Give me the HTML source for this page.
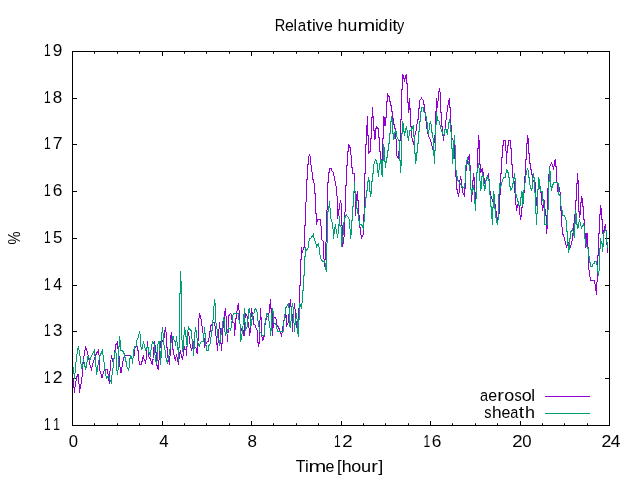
<!DOCTYPE html>
<html><head><meta charset="utf-8"><title>Relative humidity</title>
<style>
html,body{margin:0;padding:0;background:#fff;}
body{width:640px;height:480px;overflow:hidden;}
svg{display:block;will-change:transform;}
text{font-family:"Liberation Sans",sans-serif;font-size:16px;fill:#000;}
</style></head><body>
<svg width="640" height="480" viewBox="0 0 640 480">
<rect width="640" height="480" fill="#fff"/>
<path d="M72.5 425.5 v-4.50 M72.5 51.5 v4.50 M94.5 425.5 v-2.25 M94.5 51.5 v2.25 M117.5 425.5 v-2.25 M117.5 51.5 v2.25 M139.5 425.5 v-2.25 M139.5 51.5 v2.25 M162.5 425.5 v-4.50 M162.5 51.5 v4.50 M184.5 425.5 v-2.25 M184.5 51.5 v2.25 M206.5 425.5 v-2.25 M206.5 51.5 v2.25 M229.5 425.5 v-2.25 M229.5 51.5 v2.25 M251.5 425.5 v-4.50 M251.5 51.5 v4.50 M273.5 425.5 v-2.25 M273.5 51.5 v2.25 M296.5 425.5 v-2.25 M296.5 51.5 v2.25 M318.5 425.5 v-2.25 M318.5 51.5 v2.25 M341.5 425.5 v-4.50 M341.5 51.5 v4.50 M363.5 425.5 v-2.25 M363.5 51.5 v2.25 M385.5 425.5 v-2.25 M385.5 51.5 v2.25 M408.5 425.5 v-2.25 M408.5 51.5 v2.25 M430.5 425.5 v-4.50 M430.5 51.5 v4.50 M452.5 425.5 v-2.25 M452.5 51.5 v2.25 M475.5 425.5 v-2.25 M475.5 51.5 v2.25 M497.5 425.5 v-2.25 M497.5 51.5 v2.25 M520.5 425.5 v-4.50 M520.5 51.5 v4.50 M542.5 425.5 v-2.25 M542.5 51.5 v2.25 M564.5 425.5 v-2.25 M564.5 51.5 v2.25 M587.5 425.5 v-2.25 M587.5 51.5 v2.25 M609.5 425.5 v-4.50 M609.5 51.5 v4.50 M72.5 425.5 h4.5 M609.5 425.5 h-4.5 M72.5 378.5 h4.5 M609.5 378.5 h-4.5 M72.5 331.5 h4.5 M609.5 331.5 h-4.5 M72.5 285.5 h4.5 M609.5 285.5 h-4.5 M72.5 238.5 h4.5 M609.5 238.5 h-4.5 M72.5 191.5 h4.5 M609.5 191.5 h-4.5 M72.5 144.5 h4.5 M609.5 144.5 h-4.5 M72.5 98.5 h4.5 M609.5 98.5 h-4.5 M72.5 51.5 h4.5 M609.5 51.5 h-4.5" stroke="#000" stroke-width="1" fill="none"/>
<g>
<polyline points="72.5,375.0 73.4,382.0 74.5,392.5 75.2,385.0 76.4,379.0 77.5,374.5 78.5,374.5 78.8,380.0 79.4,392.5 80.1,388.0 81.6,381.0 82.5,372.0 82.8,366.0 84.0,356.0 85.6,346.5 87.5,352.0 88.5,357.0 90.0,365.0 91.5,369.5 93.0,363.0 94.5,359.0 96.2,354.0 98.2,350.5 99.5,357.0 100.0,371.0 102.2,378.2 103.5,372.0 105.2,369.6 107.5,369.6 109.3,383.5 110.3,366.0 111.5,355.0 112.5,362.0 113.0,358.5 114.5,358.0 114.5,351.0 115.5,350.5 115.5,345.0 116.5,344.5 117.5,341.2 117.5,346.5 118.5,352.0 119.5,359.0 119.8,366.0 121.0,373.0 122.2,366.0 123.5,358.5 124.8,355.4 130.0,355.4 131.0,357.5 132.4,359.8 134.1,356.0 134.4,351.0 135.4,346.3 137.2,346.3 137.6,350.4 138.5,351.0 138.8,359.8 139.8,364.0 141.3,364.0 142.5,359.8 143.2,355.4 143.8,359.0 144.8,359.8 145.4,364.0 146.3,358.5 146.6,349.8 147.2,345.4 147.6,341.3 147.9,346.0 148.5,352.2 148.5,356.0 149.8,357.9 151.0,361.0 152.2,364.0 152.9,359.8 153.5,358.5 153.8,347.9 154.4,345.4 154.7,341.3 155.0,345.2 155.4,352.0 156.5,352.8 156.9,365.2 158.4,369.8 159.1,359.2 159.9,349.5 160.6,341.5 162.5,341.5 164.4,337.0 164.8,331.8 165.5,327.2 166.2,334.0 166.6,347.5 167.8,348.2 167.8,357.0 169.6,364.5 170.4,348.0 170.4,340.0 171.5,331.8 171.9,337.8 172.6,342.0 173.0,349.5 174.1,355.5 175.2,360.0 176.6,355.5 177.9,361.5 178.6,364.5 179.4,354.8 180.5,350.2 181.2,354.8 182.4,360.0 183.1,355.5 183.5,350.2 184.6,346.5 185.0,349.5 186.5,350.2 186.5,355.5 187.2,342.2 188.4,331.8 189.1,336.2 189.5,343.0 190.6,346.0 191.4,350.5 192.5,346.8 193.2,341.5 194.4,344.5 195.1,347.5 196.2,348.2 197.3,354.2 197.8,345.2 198.2,337.0 198.4,324.2 198.4,323.5 199.5,313.4 200.3,316.0 201.4,320.5 201.8,325.8 202.9,326.5 202.9,332.5 203.6,334.0 204.4,341.5 204.8,346.0 206.6,342.2 208.1,341.5 208.5,338.5 209.2,337.8 209.6,331.8 210.4,331.0 210.8,325.8 211.9,325.0 212.2,322.8 214.1,322.4 214.9,325.8 215.6,327.2 215.6,335.5 216.4,337.0 216.8,344.5 217.5,345.2 217.5,350.5 218.2,340.0 218.6,329.5 219.4,328.8 219.6,322.4 220.1,329.5 220.5,340.8 221.2,344.5 221.6,350.5 222.0,343.8 222.8,343.0 223.1,322.4 223.9,322.0 224.6,313.8 225.4,308.1 226.1,316.8 226.5,328.0 226.9,329.5 227.2,341.5 228.0,334.0 228.4,323.5 228.8,316.0 229.1,315.2 230.6,313.4 231.4,314.5 231.8,316.8 232.1,322.0 233.2,322.0 234.0,322.8 234.4,336.2 235.1,329.5 235.5,319.0 236.2,318.2 236.6,311.5 237.8,310.0 237.8,306.2 238.5,303.2 238.9,309.6 239.6,310.4 240.0,324.2 240.8,331.0 241.9,328.8 243.0,330.2 243.4,333.2 244.1,336.2 244.4,325.0 245.5,313.4 246.6,314.5 247.4,316.8 247.4,321.2 248.5,323.5 249.2,330.2 249.4,336.2 250.4,331.0 250.8,323.5 251.1,313.8 251.5,308.1 251.9,312.2 252.6,313.0 253.4,319.8 253.8,324.2 254.9,325.0 256.0,328.0 257.1,330.2 257.5,341.5 258.2,343.0 258.6,345.2 259.4,343.0 259.8,320.5 260.5,319.0 260.5,308.1 260.9,316.8 261.6,317.5 262.0,337.0 262.8,340.8 263.5,337.0 264.2,336.2 264.6,328.0 265.8,319.8 266.5,319.0 267.2,316.4 268.4,316.0 269.1,313.0 269.5,304.4 270.2,304.0 270.2,299.1 270.6,307.8 271.4,309.2 271.8,314.5 272.5,313.8 272.5,335.5 272.9,328.8 273.6,324.2 274.0,317.5 275.9,317.5 276.2,320.5 276.6,325.0 277.8,325.8 278.5,328.0 279.6,328.8 280.4,332.5 281.5,335.5 282.2,331.8 282.6,326.5 283.4,325.8 283.8,320.5 284.9,319.8 285.2,314.5 286.0,315.2 286.4,326.5 287.5,323.5 288.2,322.8 288.6,317.5 289.4,310.0 289.8,305.5 290.5,299.1 291.0,307.0 291.8,309.0 292.5,324.0 292.5,331.5 293.2,320.0 294.4,303.4 294.8,309.0 295.5,309.8 295.5,317.2 296.2,322.5 296.5,327.5 298.1,320.2 298.5,309.0 299.2,308.2 299.5,298.0 299.5,286.0 300.5,285.0 300.5,260.0 301.5,259.0 301.5,247.0 302.5,253.0 303.5,247.0 304.5,247.0 304.5,226.0 305.5,225.0 305.5,206.0 306.5,198.0 306.5,180.0 307.5,179.0 307.5,165.0 308.5,164.0 308.5,158.0 309.5,154.0 310.5,158.0 310.5,164.5 311.5,165.5 311.5,171.5 312.5,172.5 312.5,179.0 313.5,180.0 314.0,182.5 314.5,193.0 315.5,194.0 315.5,213.0 316.5,214.0 316.5,224.5 317.5,220.0 319.0,219.0 320.5,219.5 320.5,225.5 321.5,226.5 322.0,240.0 323.0,241.0 323.5,252.0 324.5,266.5 325.5,254.0 325.5,242.5 326.5,241.5 326.5,210.5 327.5,209.5 327.5,183.0 328.5,182.0 328.5,173.0 329.5,172.0 329.5,168.5 331.5,168.5 332.0,171.0 333.0,172.0 333.0,175.0 334.0,176.0 334.0,180.0 335.0,181.0 335.0,185.0 336.0,186.0 336.0,195.0 337.0,196.0 337.0,210.0 337.5,219.0 338.0,216.0 338.5,210.0 339.5,209.0 339.5,206.0 340.5,200.0 341.5,206.0 341.5,225.0 342.5,226.0 342.5,247.0 343.5,241.0 344.0,237.0 344.0,229.0 344.5,225.0 344.5,213.0 345.0,212.0 345.5,206.0 345.5,186.0 346.5,185.0 346.5,166.0 347.5,165.0 347.5,152.0 348.5,151.0 348.5,144.0 349.5,147.0 350.5,148.0 350.5,154.5 351.5,155.5 351.5,167.0 352.5,168.0 352.5,173.0 354.5,173.5 354.5,192.0 355.5,193.0 355.5,215.5 356.5,197.0 357.5,191.0 357.5,200.0 358.5,200.5 358.5,214.0 359.5,216.0 359.5,227.8 360.5,228.0 360.5,234.5 361.2,235.0 361.5,238.8 362.2,236.0 362.5,235.2 363.5,234.8 363.5,214.5 364.5,213.5 364.5,174.0 365.5,173.0 365.5,145.0 366.5,144.0 366.5,126.0 367.5,125.0 367.5,116.0 367.5,135.0 368.5,136.0 368.5,154.0 369.5,152.0 370.5,151.0 370.5,139.0 371.5,138.0 371.5,118.0 372.5,117.0 372.5,107.0 373.0,116.0 373.5,118.0 373.5,130.0 374.5,131.0 374.5,140.0 375.5,137.0 375.5,130.0 376.5,127.0 377.5,128.0 378.5,129.0 378.5,137.0 379.5,138.0 379.5,151.0 380.5,152.0 380.5,159.0 382.5,159.5 382.5,139.0 383.5,138.0 383.5,116.5 384.5,118.0 385.0,125.5 385.5,125.0 385.5,118.0 386.5,117.0 386.5,102.0 387.5,101.0 387.5,93.5 388.5,96.0 389.5,97.0 389.5,101.0 390.5,102.0 390.5,105.0 391.5,106.0 391.5,111.0 392.5,112.0 392.5,118.0 393.5,119.0 393.5,124.0 394.5,125.0 394.5,128.0 395.5,129.0 395.5,138.0 396.5,140.0 396.5,155.5 397.5,156.5 398.5,159.0 398.5,153.0 399.5,149.0 399.5,141.0 400.5,140.0 400.5,120.0 401.5,119.0 401.5,90.0 402.5,89.0 402.5,74.0 403.5,77.0 404.5,80.0 405.5,77.0 406.5,74.0 406.5,83.0 407.5,84.0 407.5,102.0 408.5,103.0 408.5,112.5 409.5,108.0 409.5,98.0 409.5,108.0 410.5,109.0 410.5,126.0 411.5,127.0 411.5,136.0 412.5,140.0 413.5,144.5 414.5,137.0 415.5,133.0 416.5,129.0 417.5,120.0 418.5,119.0 418.5,109.0 419.5,108.0 419.5,101.0 421.5,98.0 423.5,101.0 423.5,104.0 424.5,105.0 424.5,112.0 425.5,113.0 425.5,120.0 426.5,121.0 426.5,128.0 427.5,129.0 427.5,132.0 428.5,136.0 430.0,139.0 431.0,142.0 432.0,146.0 432.5,149.0 433.5,148.0 433.5,143.0 434.5,142.0 434.5,136.0 435.5,135.0 435.5,112.0 436.5,111.0 436.5,98.0 437.5,108.0 438.5,94.0 439.5,88.0 440.5,95.0 440.5,112.0 441.5,113.0 441.5,126.0 442.5,127.0 442.5,135.0 443.5,136.0 443.5,140.5 444.0,136.0 444.5,134.0 445.5,124.0 446.5,116.0 447.5,109.0 448.5,102.0 449.5,98.0 449.5,107.0 450.5,108.0 450.5,125.0 451.5,126.0 451.5,138.0 452.5,139.0 453.5,141.0 454.5,145.0 454.5,154.5 455.5,164.0 455.5,176.0 456.5,177.0 456.5,189.0 457.5,190.0 457.5,193.0 458.5,194.0 458.5,196.5 459.5,190.0 459.5,183.0 460.5,178.0 461.5,181.0 461.5,187.0 462.5,188.0 462.5,192.0 463.5,194.0 464.5,196.5 464.5,189.0 465.5,188.0 465.5,172.0 466.5,169.0 466.5,164.0 467.5,163.0 468.5,158.0 469.5,154.0 469.5,164.0 470.5,166.0 470.5,189.0 471.5,190.0 471.5,201.5 472.5,189.0 472.5,181.0 473.5,180.0 473.5,173.0 474.5,180.0 474.5,192.0 475.5,193.0 475.5,202.0 476.5,189.0 476.5,173.0 477.5,172.0 477.5,149.0 478.5,148.0 478.5,135.0 479.5,145.0 479.5,164.0 480.5,165.0 480.5,173.0 481.5,171.0 482.5,168.0 482.5,172.0 483.5,173.0 483.5,178.0 484.5,179.0 484.5,183.0 485.5,182.0 486.5,179.0 487.5,178.0 488.5,173.0 488.5,179.0 489.5,180.0 489.5,187.0 490.5,195.0 491.5,197.0 492.5,200.5 493.5,198.0 494.5,200.0 495.5,208.0 496.5,214.0 497.5,220.0 498.5,219.0 499.5,210.0 499.5,195.0 500.5,194.0 500.5,174.0 501.5,173.0 501.5,158.0 502.5,157.0 502.5,146.0 503.5,145.0 503.5,140.0 505.5,140.0 506.0,151.0 506.5,153.0 506.5,164.0 506.5,153.0 507.5,152.0 507.5,146.0 508.5,145.0 508.5,140.0 510.5,140.0 510.5,148.0 511.5,149.0 511.5,164.0 512.5,165.0 512.5,177.0 513.5,178.0 514.5,183.0 514.5,192.0 515.5,194.0 515.5,204.5 516.5,205.5 516.5,210.5 517.5,205.0 518.5,204.5 519.5,205.5 519.5,214.5 520.5,215.5 520.5,219.5 521.5,214.0 521.5,208.0 522.5,207.0 522.5,204.0 523.5,203.0 523.5,193.0 524.5,192.0 524.5,177.0 525.5,176.0 525.5,160.0 526.5,159.0 526.5,144.0 527.5,143.0 527.5,135.0 528.5,141.0 528.5,153.0 529.5,154.0 529.5,163.0 530.5,164.0 530.5,169.0 531.5,170.0 531.5,174.0 532.5,175.0 532.5,180.0 533.5,181.0 534.5,182.0 535.5,182.0 535.5,197.0 536.5,198.0 536.5,205.5 537.5,190.0 538.5,189.0 540.5,187.0 540.5,192.0 541.5,193.0 541.5,204.5 542.5,205.5 542.5,210.5 543.5,205.0 543.5,200.0 544.5,201.0 544.5,209.0 545.5,210.0 545.5,215.0 546.5,216.0 546.5,233.5 547.5,224.0 547.5,189.0 548.5,188.0 548.5,175.0 549.5,174.0 549.5,167.0 550.5,165.0 551.5,163.0 552.5,165.0 553.5,168.0 554.0,166.0 554.5,162.0 555.5,159.0 555.5,166.0 556.5,167.0 556.5,182.0 557.5,183.0 557.5,191.5 558.5,186.0 559.5,188.0 560.5,196.0 560.5,210.0 561.5,211.0 561.5,225.0 562.5,229.0 562.5,234.0 563.5,235.0 564.5,239.0 565.5,243.0 566.5,247.5 567.5,244.0 568.5,243.0 569.5,244.0 570.5,247.5 571.5,243.0 572.5,239.0 572.5,234.0 573.5,233.0 573.5,224.0 574.5,223.0 574.5,215.0 575.5,214.0 575.5,201.0 576.5,200.0 576.5,184.0 577.5,183.0 577.5,173.0 578.5,186.0 578.5,211.0 579.5,212.0 579.5,218.0 580.5,212.0 580.5,203.0 581.5,202.0 581.5,196.0 582.5,200.0 582.5,206.0 583.5,207.0 583.5,219.0 584.5,220.0 584.5,228.0 585.5,237.0 585.5,248.0 586.5,241.0 587.0,233.0 587.5,243.0 588.4,250.0 588.4,269.5 589.5,270.2 589.5,276.6 590.6,277.4 590.6,280.4 594.8,280.8 594.8,283.8 595.5,284.5 595.5,290.5 596.5,291.5 596.5,294.8 596.5,282.2 597.4,281.5 597.5,256.0 598.5,255.0 598.5,234.0 599.5,233.0 599.5,215.0 600.5,214.0 600.5,205.0 601.5,210.0 601.5,219.0 602.5,220.0 602.5,233.0 603.5,232.0 604.5,229.0 605.5,224.0 605.5,230.0 606.5,231.0 606.5,244.0 607.5,245.0 607.5,253.0" fill="none" stroke="#9400d3" stroke-width="1" stroke-linejoin="miter" shape-rendering="crispEdges"/>
<polyline points="72.5,364.0 73.5,369.0 74.5,378.5 75.5,368.0 76.3,358.0 77.3,352.0 78.4,346.3 80.0,356.0 81.7,369.3 83.5,359.5 85.7,369.6 88.0,355.8 89.9,360.6 91.5,355.7 94.4,350.4 95.5,361.0 96.6,374.5 98.2,364.0 100.0,355.7 102.4,350.5 104.0,362.0 105.5,374.0 106.8,378.3 108.5,376.0 111.5,383.5 112.2,372.0 113.5,366.0 113.5,358.5 114.5,358.0 114.5,353.5 115.5,350.0 116.5,356.0 116.5,364.5 117.3,375.0 118.5,366.0 118.5,346.5 119.5,346.0 119.5,336.2 120.5,343.5 120.5,350.0 122.5,350.5 123.5,352.5 124.5,354.5 124.5,357.5 125.5,358.0 125.5,361.5 126.5,362.0 126.5,366.0 128.5,369.5 129.5,366.0 129.5,359.0 130.5,358.5 130.5,355.5 132.0,358.5 132.5,364.4 133.5,351.5 134.8,346.3 136.0,346.3 136.6,340.4 137.6,339.8 139.5,331.5 140.5,337.0 140.7,345.4 141.6,350.4 142.6,346.6 143.5,341.3 144.2,345.5 145.7,350.4 146.6,347.9 147.9,346.6 148.8,352.0 150.4,355.4 151.5,346.0 152.9,341.3 154.3,345.0 155.4,359.8 156.9,363.8 157.6,347.0 158.4,341.5 159.9,342.0 160.2,364.5 161.4,355.0 161.4,337.0 162.5,327.2 163.3,336.0 163.7,344.5 164.8,347.0 165.5,356.0 167.4,363.8 168.9,355.5 170.0,349.0 170.8,344.0 171.7,340.0 173.0,336.2 174.1,340.0 175.3,342.5 175.6,346.0 176.4,336.2 176.8,341.5 177.9,343.0 178.2,360.8 179.6,338.0 179.6,294.0 180.5,293.0 180.5,271.0 181.6,292.0 181.6,334.0 182.8,352.0 184.2,333.0 184.6,327.2 185.4,333.0 186.1,337.0 187.2,346.7 187.6,332.0 188.8,327.2 189.5,329.5 191.0,330.3 191.4,336.2 192.5,341.5 193.3,344.0 193.6,355.5 194.4,342.0 194.8,334.0 195.5,327.2 196.3,332.0 197.0,337.8 197.8,342.2 198.9,345.2 199.5,346.0 200.6,342.2 203.2,341.1 203.6,334.0 204.4,333.2 204.4,327.2 205.1,334.0 205.5,344.5 206.2,345.2 206.2,350.5 208.5,350.5 208.5,348.2 209.2,344.5 210.0,343.8 210.4,337.8 211.1,337.0 211.5,331.0 212.2,330.2 212.6,320.5 213.4,319.8 213.4,306.2 214.5,306.0 214.5,299.1 215.6,307.0 215.6,322.8 216.4,323.5 216.8,327.2 217.5,334.0 218.2,339.2 219.0,340.0 219.4,344.5 219.8,346.0 220.1,340.0 220.5,335.5 221.2,334.0 221.6,330.2 222.0,328.0 222.8,327.2 222.8,321.2 223.9,320.5 223.9,317.1 224.2,322.8 225.0,331.8 225.8,336.2 226.1,333.2 227.2,332.5 227.6,330.2 228.8,328.0 229.9,328.4 230.6,331.0 231.0,328.0 231.4,321.5 232.4,320.5 232.4,316.0 233.6,313.6 238.9,313.4 238.9,319.8 239.6,320.5 240.0,323.5 240.4,333.2 240.8,341.5 241.5,337.8 241.5,334.8 242.2,334.0 242.2,327.2 243.0,325.8 243.4,316.0 243.4,314.5 244.5,313.8 244.5,308.0 244.8,319.0 245.5,330.2 247.0,327.2 247.4,319.8 248.1,319.0 248.5,313.0 249.2,308.1 250.0,313.0 250.4,326.5 251.5,325.0 251.9,319.8 252.6,318.2 253.0,313.8 254.1,313.0 254.5,311.5 255.2,308.1 256.4,310.0 257.1,311.9 257.9,312.6 257.9,320.5 258.6,322.0 259.4,331.0 260.1,331.8 260.9,333.2 262.0,334.8 263.9,336.0 264.2,332.5 265.0,323.5 265.8,319.8 266.5,313.8 266.9,313.4 268.0,315.2 268.4,319.0 269.5,322.0 270.2,330.2 270.4,336.2 271.4,327.2 271.8,315.2 272.5,308.1 273.6,314.5 274.0,322.8 275.1,323.5 275.9,325.0 277.0,328.8 277.4,331.8 283.0,331.8 283.4,325.8 284.1,320.5 284.5,314.5 285.6,313.8 285.6,308.1 287.1,306.2 288.2,303.2 288.8,308.0 289.5,309.0 290.0,327.0 290.5,327.5 291.0,321.8 291.4,309.0 292.5,303.4 293.2,309.0 293.6,322.5 294.4,324.0 294.5,331.5 295.1,324.0 295.5,318.8 296.2,318.0 296.2,313.5 297.0,318.8 297.4,330.0 298.5,336.8 298.9,319.5 299.6,318.8 299.6,303.4 301.5,308.6 301.5,303.4 302.5,302.6 302.5,291.0 303.5,290.0 303.5,276.0 304.5,275.0 304.5,257.0 305.5,256.0 305.5,247.5 306.5,250.0 307.5,249.0 308.0,248.0 308.5,243.0 309.5,238.5 311.0,238.0 312.5,236.0 313.5,233.5 314.0,238.0 315.0,241.0 316.0,244.0 316.5,247.0 317.5,244.5 318.5,243.5 319.0,247.0 319.5,250.0 320.0,255.0 321.0,259.0 322.5,261.0 324.0,261.5 325.0,263.0 325.5,268.0 326.5,271.5 326.5,254.0 327.0,243.0 327.5,242.0 327.5,213.0 328.5,210.0 329.0,206.0 329.2,201.0 329.5,206.0 330.5,210.5 331.0,219.0 332.0,222.0 332.0,227.5 333.0,228.5 333.5,238.5 334.0,234.0 334.5,229.0 335.5,224.5 336.0,229.0 337.0,234.0 337.5,238.0 338.0,234.0 338.5,225.0 339.5,224.0 339.5,216.5 340.0,225.5 341.0,226.5 341.5,247.0 342.5,240.0 343.0,236.0 343.5,225.0 344.5,219.0 345.5,216.0 346.5,215.0 347.5,216.5 349.0,219.0 349.5,224.0 350.5,233.0 350.5,238.8 351.5,232.0 351.5,221.0 352.5,220.0 352.5,207.0 353.5,206.0 353.5,191.5 354.5,191.0 354.5,182.0 354.5,191.0 355.5,192.0 355.5,197.0 356.5,204.0 356.5,208.0 357.5,209.0 357.5,213.5 358.5,214.5 358.5,220.5 359.5,221.0 359.5,224.5 361.0,224.5 362.0,225.5 362.5,227.0 363.2,227.5 363.5,229.8 363.5,222.0 364.5,221.0 364.5,208.0 365.5,207.0 365.5,198.0 366.5,197.0 366.5,191.0 367.5,190.0 367.5,182.0 368.5,181.0 368.5,177.0 369.5,182.0 369.5,191.0 370.5,192.0 370.5,196.5 371.5,191.0 371.5,182.0 372.5,181.0 372.5,174.0 373.5,173.0 373.5,167.0 374.5,162.0 376.0,159.5 376.5,163.0 377.5,164.0 378.0,173.0 378.5,177.0 379.5,164.0 380.5,163.0 380.5,160.0 381.5,160.5 381.5,173.0 382.5,177.0 382.5,161.0 383.5,160.0 383.5,144.0 384.5,150.0 384.5,161.0 385.5,162.0 385.5,168.0 386.5,158.0 387.5,157.0 387.5,151.0 388.5,150.0 388.5,144.0 389.5,143.0 389.5,134.0 390.5,133.0 390.5,122.0 391.5,121.0 391.5,116.0 392.5,122.0 392.5,133.0 393.5,134.0 393.5,140.0 394.5,137.0 394.5,133.0 395.5,132.0 395.5,130.0 396.5,133.0 396.5,136.0 398.0,139.0 399.5,142.0 399.5,160.0 400.5,161.0 400.5,173.0 401.5,159.0 401.5,134.0 402.5,133.0 402.5,121.0 403.5,125.0 403.5,131.0 404.5,132.0 404.5,136.0 405.5,130.0 406.5,126.0 407.0,130.0 407.5,135.0 408.5,140.5 409.5,131.0 411.5,130.0 412.5,127.0 413.5,126.0 413.5,136.0 414.5,137.0 414.5,153.0 415.5,154.0 415.5,163.5 416.5,159.0 416.5,153.0 417.5,152.0 417.5,144.0 418.5,143.0 418.5,132.0 419.5,131.0 419.5,122.0 420.5,121.0 420.5,112.0 421.5,111.0 421.5,107.5 423.5,107.5 424.0,112.0 425.0,113.0 425.5,116.0 426.5,117.0 427.0,122.0 427.5,131.0 428.5,132.0 428.5,135.0 429.5,126.0 430.5,121.0 431.5,126.0 431.5,131.0 432.5,134.0 433.0,138.0 433.5,142.0 433.5,155.0 434.5,156.0 434.5,163.5 434.5,151.0 435.5,150.0 435.5,125.0 436.5,124.0 436.5,112.0 437.5,120.0 439.0,121.0 439.5,124.0 440.5,126.0 441.5,131.0 442.5,132.0 443.5,136.0 444.5,134.0 444.5,130.0 445.5,129.0 446.5,130.0 447.5,135.0 448.5,124.0 449.5,121.0 450.5,125.0 450.5,131.0 451.5,132.0 451.5,148.0 452.5,149.0 452.5,163.5 453.5,155.0 453.5,141.0 454.5,140.0 454.5,135.0 455.0,144.0 455.5,164.0 456.5,176.0 457.5,177.0 457.5,180.0 458.5,181.0 459.5,183.0 460.5,184.0 461.5,186.0 462.5,187.0 464.5,187.5 465.5,179.0 465.5,166.0 466.5,165.0 466.5,162.0 467.5,159.0 468.5,163.0 469.5,166.0 470.5,175.0 470.5,189.0 471.5,190.0 471.5,195.0 472.5,190.0 473.5,187.0 474.5,192.0 474.5,203.0 475.5,204.0 475.5,210.5 476.5,189.0 476.5,173.0 477.5,172.0 478.5,164.0 478.5,163.0 479.5,172.0 479.5,177.0 480.5,184.0 480.5,191.0 481.5,186.0 481.5,177.0 482.5,176.0 482.5,173.0 483.5,178.0 483.5,185.0 484.5,186.0 484.5,191.0 485.5,186.0 485.5,181.0 486.5,180.0 486.5,177.5 487.5,177.0 488.5,180.0 489.5,181.0 489.5,192.0 490.5,198.0 490.5,206.0 491.5,207.0 491.5,218.0 492.5,219.0 492.5,224.5 492.5,208.0 493.5,207.0 493.5,191.0 494.5,197.0 494.5,208.0 495.5,209.0 495.5,217.0 496.5,218.0 496.5,221.0 497.5,224.5 498.0,220.0 498.5,214.0 498.5,195.0 499.5,193.0 499.5,183.0 500.5,187.0 501.0,186.0 501.5,184.0 502.5,180.0 503.5,177.5 505.5,177.0 506.0,173.0 506.5,169.0 507.5,172.0 508.5,173.0 508.5,177.0 509.5,178.0 509.5,186.0 510.5,187.0 510.5,191.0 511.5,189.0 512.5,187.0 512.5,184.0 513.5,183.0 513.5,178.0 514.5,177.0 514.5,173.0 514.5,178.0 515.5,179.0 515.5,194.0 516.5,195.0 517.5,201.0 518.5,202.0 518.5,205.5 520.5,205.5 520.5,198.0 521.5,197.0 521.5,191.0 522.5,194.0 522.5,205.5 523.5,200.0 523.5,193.0 524.5,188.0 525.5,178.0 526.5,172.0 527.5,168.0 528.5,172.0 528.5,177.0 529.5,178.0 529.5,182.0 530.5,187.0 531.5,191.0 532.5,186.0 532.5,178.0 533.5,177.0 533.5,173.0 534.5,180.0 534.5,192.0 535.5,193.0 535.5,213.5 536.5,214.5 536.5,224.5 536.5,214.0 537.5,213.0 537.5,190.0 538.5,189.0 538.5,177.5 539.5,181.0 539.5,187.0 540.5,188.0 540.5,191.0 542.5,192.0 542.5,200.0 543.5,201.0 544.5,206.0 544.5,224.5 547.5,224.5 547.5,210.0 548.5,209.0 548.5,182.0 549.5,181.0 549.5,167.0 550.5,174.0 550.5,186.0 551.5,187.0 551.5,191.0 552.5,186.0 553.5,183.0 554.0,182.0 557.5,182.0 558.5,185.0 558.5,194.0 559.5,195.0 560.5,196.0 560.5,202.0 561.5,210.0 562.5,211.0 562.5,215.0 564.5,215.5 565.5,218.0 566.5,222.0 566.5,231.0 567.5,232.0 567.5,243.0 568.5,244.0 568.5,253.0 569.5,247.0 569.5,239.0 570.5,238.0 570.5,232.0 571.5,231.0 572.5,229.0 573.5,233.0 574.5,238.0 574.5,224.0 575.5,223.0 575.5,210.0 576.5,215.0 576.5,224.0 577.5,225.0 577.5,229.0 578.5,226.0 579.5,219.0 580.5,224.0 581.5,228.0 582.5,226.0 583.5,224.0 584.5,228.0 584.5,238.0 585.5,239.0 585.5,243.0 587.5,248.0 588.5,249.0 588.5,256.0 589.5,257.0 589.5,262.4 590.6,263.0 590.6,266.5 592.5,266.5 592.9,264.2 594.0,263.5 594.0,261.2 596.6,261.2 596.6,265.0 597.8,265.4 598.1,276.0 598.9,271.8 599.6,265.8 599.6,249.0 600.5,248.0 600.5,238.0 601.5,243.0 602.5,244.0 602.5,252.0 603.5,243.0 603.5,233.0 604.5,232.0 605.5,229.5 606.5,232.0 606.5,242.0 607.5,243.0 607.5,248.0" fill="none" stroke="#009e73" stroke-width="1" stroke-linejoin="miter" shape-rendering="crispEdges"/>
</g>
<rect x="72.5" y="51.5" width="537" height="374" fill="none" stroke="#000" stroke-width="1"/>
<g>
<text transform="translate(280.20,30.75) scale(0.880,1) translate(-6.25,0)" style="font-size:16.5px">R</text>
<text transform="translate(289.35,30.75) scale(0.967,1) translate(-4.57,0)" style="font-size:16.5px">e</text>
<text transform="translate(295.30,30.75) scale(0.953,1) translate(-1.84,0)" style="font-size:16.5px">l</text>
<text transform="translate(302.38,30.75) scale(0.912,1) translate(-4.94,0)" style="font-size:16.5px">a</text>
<text transform="translate(309.40,30.75) scale(1.184,1) translate(-2.36,0)" style="font-size:16.5px">t</text>
<text transform="translate(313.85,30.75) scale(1.021,1) translate(-1.82,0)" style="font-size:16.5px">i</text>
<text transform="translate(319.68,30.75) scale(1.000,1) translate(-4.12,0)" style="font-size:16.5px">v</text>
<text transform="translate(328.35,30.75) scale(0.967,1) translate(-4.57,0)" style="font-size:16.5px">e</text>
<text transform="translate(342.50,30.75) scale(1.075,1) translate(-4.63,0)" style="font-size:16.5px">h</text>
<text transform="translate(352.50,30.75) scale(1.067,1) translate(-4.57,0)" style="font-size:16.5px">u</text>
<text transform="translate(366.50,30.75) scale(1.295,1) translate(-6.88,0)" style="font-size:16.5px">m</text>
<text transform="translate(376.75,30.75) scale(1.021,1) translate(-1.82,0)" style="font-size:16.5px">i</text>
<text transform="translate(382.95,30.75) scale(1.064,1) translate(-4.41,0)" style="font-size:16.5px">d</text>
<text transform="translate(390.50,30.75) scale(1.021,1) translate(-1.82,0)" style="font-size:16.5px">i</text>
<text transform="translate(395.00,30.75) scale(1.184,1) translate(-2.36,0)" style="font-size:16.5px">t</text>
<text transform="translate(400.75,30.75) scale(0.880,1) translate(-4.12,0)" style="font-size:16.5px">y</text>
<text transform="translate(300.50,471.75) scale(0.964,1) translate(-5.03,0)" style="font-size:16.5px">T</text>
<text transform="translate(306.75,471.75) scale(1.021,1) translate(-1.82,0)" style="font-size:16.5px">i</text>
<text transform="translate(317.50,471.75) scale(1.295,1) translate(-6.88,0)" style="font-size:16.5px">m</text>
<text transform="translate(330.00,471.75) scale(0.967,1) translate(-4.57,0)" style="font-size:16.5px">e</text>
<text transform="translate(339.80,471.75) scale(1.030,1) translate(-2.82,0)" style="font-size:16.5px">[</text>
<text transform="translate(346.85,471.75) scale(1.075,1) translate(-4.63,0)" style="font-size:16.5px">h</text>
<text transform="translate(356.35,471.75) scale(1.089,1) translate(-4.60,0)" style="font-size:16.5px">o</text>
<text transform="translate(366.12,471.75) scale(1.103,1) translate(-4.57,0)" style="font-size:16.5px">u</text>
<text transform="translate(375.00,471.75) scale(1.207,1) translate(-3.16,0)" style="font-size:16.5px">r</text>
<text transform="translate(380.30,471.75) scale(1.091,1) translate(-1.77,0)" style="font-size:16.5px">]</text>
<text transform="translate(484.40,400.50) scale(0.880,1) translate(-4.94,0)" style="font-size:16.5px">a</text>
<text transform="translate(492.75,400.50) scale(0.967,1) translate(-4.57,0)" style="font-size:16.5px">e</text>
<text transform="translate(501.00,400.50) scale(1.207,1) translate(-3.16,0)" style="font-size:16.5px">r</text>
<text transform="translate(509.25,400.50) scale(1.089,1) translate(-4.60,0)" style="font-size:16.5px">o</text>
<text transform="translate(518.00,400.50) scale(0.880,1) translate(-4.05,0)" style="font-size:16.5px">s</text>
<text transform="translate(526.75,400.50) scale(1.089,1) translate(-4.60,0)" style="font-size:16.5px">o</text>
<text transform="translate(533.25,400.50) scale(1.021,1) translate(-1.84,0)" style="font-size:16.5px">l</text>
<text transform="translate(487.90,417.50) scale(0.880,1) translate(-4.05,0)" style="font-size:16.5px">s</text>
<text transform="translate(496.85,417.50) scale(1.046,1) translate(-4.63,0)" style="font-size:16.5px">h</text>
<text transform="translate(505.95,417.50) scale(0.967,1) translate(-4.57,0)" style="font-size:16.5px">e</text>
<text transform="translate(514.50,417.50) scale(0.880,1) translate(-4.94,0)" style="font-size:16.5px">a</text>
<text transform="translate(521.50,417.50) scale(1.184,1) translate(-2.36,0)" style="font-size:16.5px">t</text>
<text transform="translate(530.00,417.50) scale(1.089,1) translate(-4.63,0)" style="font-size:16.5px">h</text>
<text transform="translate(73.50,446.70) scale(1.044,1) translate(-4.46,0)" style="font-size:16px">0</text>
<text transform="translate(163.75,446.70) scale(1.052,1) translate(-4.39,0)" style="font-size:16px">4</text>
<text transform="translate(252.25,446.70) scale(1.064,1) translate(-4.45,0)" style="font-size:16px">8</text>
<text transform="translate(337.50,446.70) scale(0.750,1) translate(-4.67,0)" style="font-size:16px">1</text>
<text transform="translate(347.50,446.70) scale(1.165,1) translate(-4.45,0)" style="font-size:16px">2</text>
<text transform="translate(427.00,446.70) scale(0.750,1) translate(-4.67,0)" style="font-size:16px">1</text>
<text transform="translate(436.50,446.70) scale(1.080,1) translate(-4.50,0)" style="font-size:16px">6</text>
<text transform="translate(517.50,446.70) scale(1.165,1) translate(-4.45,0)" style="font-size:16px">2</text>
<text transform="translate(527.00,446.70) scale(1.044,1) translate(-4.46,0)" style="font-size:16px">0</text>
<text transform="translate(606.55,446.70) scale(1.110,1) translate(-4.45,0)" style="font-size:16px">2</text>
<text transform="translate(615.62,446.70) scale(1.083,1) translate(-4.39,0)" style="font-size:16px">4</text>
<text transform="translate(47.50,55.80) scale(0.750,1) translate(-4.67,0)" style="font-size:16px">1</text>
<text transform="translate(57.60,55.80) scale(1.080,1) translate(-4.44,0)" style="font-size:16px">9</text>
<text transform="translate(47.50,102.80) scale(0.750,1) translate(-4.67,0)" style="font-size:16px">1</text>
<text transform="translate(57.60,102.80) scale(1.064,1) translate(-4.45,0)" style="font-size:16px">8</text>
<text transform="translate(47.50,148.80) scale(0.750,1) translate(-4.67,0)" style="font-size:16px">1</text>
<text transform="translate(57.60,148.80) scale(1.099,1) translate(-4.46,0)" style="font-size:16px">7</text>
<text transform="translate(47.50,195.80) scale(0.750,1) translate(-4.67,0)" style="font-size:16px">1</text>
<text transform="translate(57.60,195.80) scale(1.080,1) translate(-4.50,0)" style="font-size:16px">6</text>
<text transform="translate(47.50,242.80) scale(0.750,1) translate(-4.67,0)" style="font-size:16px">1</text>
<text transform="translate(57.60,242.80) scale(1.053,1) translate(-4.44,0)" style="font-size:16px">5</text>
<text transform="translate(47.50,289.80) scale(0.750,1) translate(-4.67,0)" style="font-size:16px">1</text>
<text transform="translate(57.60,289.80) scale(0.990,1) translate(-4.39,0)" style="font-size:16px">4</text>
<text transform="translate(47.50,335.80) scale(0.750,1) translate(-4.67,0)" style="font-size:16px">1</text>
<text transform="translate(57.60,335.80) scale(1.053,1) translate(-4.41,0)" style="font-size:16px">3</text>
<text transform="translate(47.50,382.80) scale(0.750,1) translate(-4.67,0)" style="font-size:16px">1</text>
<text transform="translate(57.60,382.80) scale(1.096,1) translate(-4.45,0)" style="font-size:16px">2</text>
<text transform="translate(47.50,429.80) scale(0.750,1) translate(-4.67,0)" style="font-size:16px">1</text>
<text transform="translate(56.65,429.80) scale(0.750,1) translate(-4.67,0)" style="font-size:16px">1</text>
<text transform="translate(20,237.95) rotate(-90) scale(0.895,1) translate(-7.33,0)" style="font-size:16.5px">%</text>
</g>
<path d="M545 396.5H590" stroke="#9400d3" stroke-width="1" fill="none"/>
<path d="M545 413.5H590" stroke="#009e73" stroke-width="1" fill="none"/>
</svg>
</body></html>
